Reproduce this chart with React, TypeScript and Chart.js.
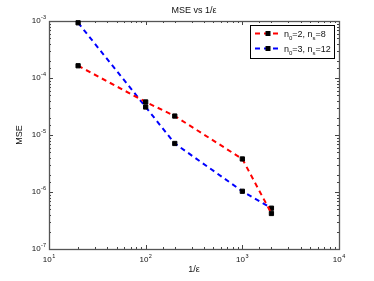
import React, { useEffect, useRef } from 'react';
import { Chart, registerables } from 'chart.js';

Chart.register(...registerables);

// ---- data ----
const xValues = [20, 100, 200, 1000, 2000];
const seriesA = [1.64e-4, 3.8e-5, 2.15e-5, 3.8e-6, 4.2e-7]; // n0=2, ns=8
const seriesB = [9.3e-4, 3.1e-5, 7.1e-6, 1.03e-6, 5.2e-7]; // n0=3, ns=12
const xMajorExps = [1, 2, 3, 4];
const yMajorExps = [-7, -6, -5, -4, -3];
const xTickExpLabels = ['1', '2', '3', '4'];
const yTickExpLabels = ['-7', '-6', '-5', '-4', '-3'];
const tickBase = '10';
const titleText = 'MSE vs 1/ε';
const xTitle = '1/ε';
const yTitle = 'MSE';
const legendA = { main: ['n', '=2, n', '=8'], subs: ['0', 's'] };
const legendB = { main: ['n', '=3, n', '=12'], subs: ['0', 's'] };

const FONT = '"Liberation Sans", Arial, Helvetica, sans-serif';
const RED = '#ff0000';
const BLUE = '#0000ff';
const TEXT = '#111';

const isMajor = (v: number) => {
  const l = Math.log10(v);
  return Math.abs(l - Math.round(l)) < 1e-6;
};

const drawPow = (ctx: any, exp: string, x: number, baseY: number, align: 'center' | 'right') => {
  ctx.font = `8px ${FONT}`;
  const wb = ctx.measureText(tickBase).width;
  ctx.font = `5.5px ${FONT}`;
  const we = ctx.measureText(exp).width;
  const total = wb + 0.5 + we;
  const x0 = align === 'center' ? x - total / 2 : x - total;
  ctx.textAlign = 'left';
  ctx.textBaseline = 'alphabetic';
  ctx.fillStyle = TEXT;
  ctx.font = `8px ${FONT}`;
  ctx.fillText(tickBase, x0, baseY);
  ctx.font = `5.5px ${FONT}`;
  ctx.fillText(exp, x0 + wb + 0.5, baseY - 4);
};

const framePlugin = {
  id: 'frame',
  beforeDatasetsDraw(chart: any) {
    const { ctx, chartArea } = chart;
    const { left, right, top, bottom } = chartArea;
    const x = chart.scales.x;
    const y = chart.scales.y;
    ctx.save();
    // title
    ctx.fillStyle = TEXT;
    ctx.font = `9px ${FONT}`;
    ctx.textAlign = 'center';
    ctx.textBaseline = 'middle';
    ctx.fillText(titleText, (left + right) / 2, 11);

    ctx.strokeStyle = '#444';
    ctx.lineWidth = 1;
    ctx.beginPath();
    for (const t of x.ticks) {
      const px = Math.round(x.getPixelForValue(t.value)) + 0.5;
      const len = isMajor(t.value) ? 4 : 2;
      ctx.moveTo(px, bottom);
      ctx.lineTo(px, bottom - len);
      ctx.moveTo(px, top);
      ctx.lineTo(px, top + len);
    }
    for (const t of y.ticks) {
      const py = Math.round(y.getPixelForValue(t.value)) + 0.5;
      const len = isMajor(t.value) ? 4 : 2;
      ctx.moveTo(left, py);
      ctx.lineTo(left + len, py);
      ctx.moveTo(right, py);
      ctx.lineTo(right - len, py);
    }
    ctx.stroke();
    ctx.strokeStyle = '#555';
    ctx.lineWidth = 1.3;
    ctx.strokeRect(Math.round(left) + 0.5, Math.round(top) + 0.5, Math.round(right - left), Math.round(bottom - top));

    // tick labels (10^n) positioned by the scales
    xMajorExps.forEach((e, i) => {
      const px = x.getPixelForValue(Math.pow(10, e));
      drawPow(ctx, xTickExpLabels[i], px, bottom + 12.5, 'center');
    });
    yMajorExps.forEach((e, i) => {
      const py = y.getPixelForValue(Math.pow(10, e));
      drawPow(ctx, yTickExpLabels[i], left - 3, py + 2, 'right');
    });
    ctx.restore();
  },
  afterDraw(chart: any) {
    const { ctx, chartArea } = chart;
    const { right, top } = chartArea;
    const bx = right - 89;
    const by = top + 4;
    const bw = 84;
    const bh = 33;
    ctx.save();
    ctx.fillStyle = '#fff';
    ctx.fillRect(bx, by, bw, bh);
    ctx.strokeStyle = '#000';
    ctx.lineWidth = 1;
    ctx.strokeRect(bx + 0.5, by + 0.5, bw, bh);
    const entries = [
      { color: RED, text: legendA, cy: by + 8.5 },
      { color: BLUE, text: legendB, cy: by + 23.5 },
    ];
    for (const e of entries) {
      ctx.strokeStyle = e.color;
      ctx.lineWidth = 2;
      ctx.setLineDash([5, 4]);
      ctx.beginPath();
      ctx.moveTo(bx + 5, e.cy);
      ctx.lineTo(bx + 31, e.cy);
      ctx.stroke();
      ctx.setLineDash([]);
      ctx.fillStyle = '#000';
      ctx.fillRect(bx + 15.5, e.cy - 2.5, 5, 5);
      // text with subscripts
      let tx = bx + 34;
      const base = e.cy + 3;
      ctx.textAlign = 'left';
      ctx.textBaseline = 'alphabetic';
      ctx.fillStyle = TEXT;
      for (let i = 0; i < e.text.main.length; i++) {
        ctx.font = `9px ${FONT}`;
        ctx.fillText(e.text.main[i], tx, base);
        tx += ctx.measureText(e.text.main[i]).width;
        if (i < e.text.subs.length) {
          ctx.font = `6px ${FONT}`;
          ctx.fillText(e.text.subs[i], tx, base + 3);
          tx += ctx.measureText(e.text.subs[i]).width;
        }
      }
    }
    ctx.restore();
  },
};

export default function App() {
  const ref = useRef<HTMLCanvasElement | null>(null);
  useEffect(() => {
    document.body.style.margin = '0';
    if (!ref.current) return;
    const mk = (label: string, ys: number[], color: string) => ({
      label,
      data: xValues.map((v, i) => ({ x: v, y: ys[i] })),
      borderColor: color,
      borderWidth: 2,
      borderDash: [5, 4],
      pointStyle: 'rect' as const,
      pointRadius: 3,
      pointBackgroundColor: '#000',
      pointBorderColor: '#000',
      pointBorderWidth: 1,
      fill: false,
      tension: 0,
      clip: false as any,
    });
    const chart = new Chart(ref.current, {
      type: 'line',
      data: {
        datasets: [mk('n0=2, ns=8', seriesA, RED), mk('n0=3, ns=12', seriesB, BLUE)],
      },
      options: {
        animation: false,
        responsive: false,
        maintainAspectRatio: false,
        layout: { padding: { top: 21, right: 35, left: 0, bottom: 0 } },
        plugins: {
          legend: { display: false },
          title: { display: false },
          tooltip: { enabled: false },
        },
        scales: {
          x: {
            type: 'logarithmic',
            min: 10,
            max: 10000,
            grid: { display: false, drawTicks: false },
            border: { display: false },
            ticks: { display: false, autoSkip: false },
            title: {
              display: true,
              text: xTitle,
              color: TEXT,
              font: { family: FONT, size: 9 },
              padding: { top: 0, bottom: 5.6 },
            },
            afterFit: (scale: any) => {
              scale.height = 32;
            },
          },
          y: {
            type: 'logarithmic',
            min: 1e-7,
            max: 1e-3,
            grid: { display: false, drawTicks: false },
            border: { display: false },
            ticks: { display: false, autoSkip: false },
            title: {
              display: true,
              text: yTitle,
              color: TEXT,
              font: { family: FONT, size: 9 },
              padding: { top: 14.6, bottom: 0 },
            },
            afterFit: (scale: any) => {
              scale.width = 49;
            },
          },
        },
      },
      plugins: [framePlugin],
    });
    return () => chart.destroy();
  }, []);
  return (
    <div style={{ width: 374, height: 281, background: '#fff' }}>
      <canvas ref={ref} width={374} height={281} />
    </div>
  );
}
